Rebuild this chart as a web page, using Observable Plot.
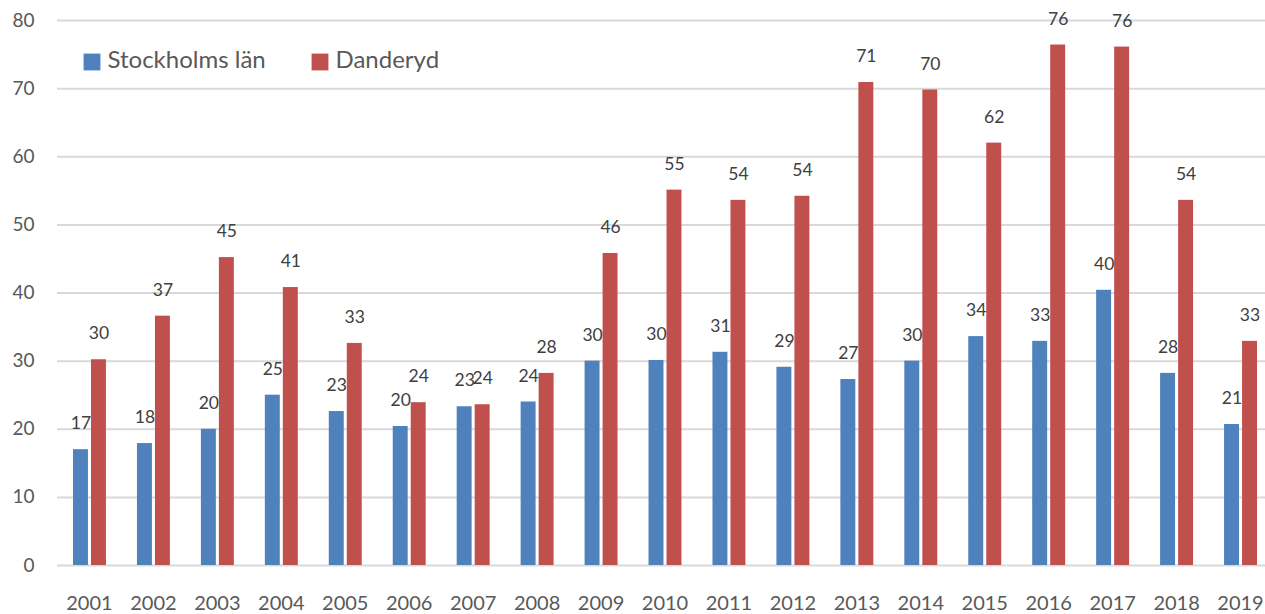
<!DOCTYPE html>
<html>
<head>
<meta charset="utf-8">
<script src="https://cdn.jsdelivr.net/npm/d3@7"></script>
<script src="https://cdn.jsdelivr.net/npm/@observablehq/plot@0.6"></script>
<style>
  html, body { margin: 0; padding: 0; background: #fff; }
  #chart svg { display: block; }
</style>
</head>
<body>
<div id="chart"></div>
<script>
const years = ["2001","2002","2003","2004","2005","2006","2007","2008","2009","2010","2011","2012","2013","2014","2015","2016","2017","2018","2019"];
const stockholm = [17.0, 17.9, 20.0, 25.0, 22.6, 20.4, 23.3, 24.0, 30.0, 30.1, 31.3, 29.1, 27.3, 30.0, 33.6, 32.9, 40.4, 28.2, 20.7];
const danderyd  = [30.2, 36.6, 45.2, 40.8, 32.6, 23.9, 23.6, 28.2, 45.8, 55.1, 53.6, 54.2, 70.9, 69.8, 62.0, 76.4, 76.1, 53.6, 32.9];
const seriesNames = ["Stockholms län", "Danderyd"];
const seriesColors = ["#4F81BD", "#C0504D"];
const yTicks = [0, 10, 20, 30, 40, 50, 60, 70, 80];

const rows = [];
years.forEach((y, i) => {
  rows.push({year: y, series: seriesNames[0], value: stockholm[i]});
  rows.push({year: y, series: seriesNames[1], value: danderyd[i]});
});
const sRows = rows.filter(d => d.series === seriesNames[0]);
const dRows = rows.filter(d => d.series === seriesNames[1]);
const legendS = [{series: seriesNames[0]}];
const legendD = [{series: seriesNames[1]}];

const chart = Plot.plot({
  width: 1265,
  height: 614,
  marginTop: 20,
  marginBottom: 49,
  marginLeft: 57,
  marginRight: 0,
  style: {fontFamily: "Lato, 'Open Sans', sans-serif", color: "#595959", background: "#fff"},
  x: {type: "band", domain: years, range: [57, 1272], paddingInner: 0, paddingOuter: 0, round: false, label: null},
  y: {domain: [0, 80], label: null},
  color: {domain: seriesNames, range: seriesColors},
  marks: [
    Plot.ruleY(yTicks, {stroke: "#D9D9D9", strokeWidth: 2}),
    Plot.barY(sRows, {x: "year", y: "value", fill: "series", insetLeft: 16, insetRight: 33}),
    Plot.barY(dRows, {x: "year", y: "value", fill: "series", insetLeft: 34, insetRight: 15}),
    Plot.text(sRows, {x: "year", y: "value", text: d => String(Math.round(d.value)), dx: -8.5, dy: -26, fontSize: 17.5, fill: "#404040"}),
    Plot.text(dRows, {x: "year", y: "value", text: d => String(Math.round(d.value)), dx: 9.5, dy: -26, fontSize: 17.5, fill: "#404040"}),
    Plot.axisY(yTicks, {tickSize: 0, tickPadding: 23, fontSize: 19, label: null}),
    Plot.axisX({tickSize: 0, tickPadding: 30, fontSize: 20, label: null}),
    Plot.dot(legendS, {frameAnchor: "top-left", dx: 34.5, dy: 41.5, symbol: "square", r: 9.5, fill: "series", stroke: null}),
    Plot.text(legendS, {frameAnchor: "top-left", lineAnchor: "middle", text: "series", dx: 50, dy: 40, fontSize: 24, textAnchor: "start", fill: "#595959"}),
    Plot.dot(legendD, {frameAnchor: "top-left", dx: 262.5, dy: 41.5, symbol: "square", r: 9.5, fill: "series", stroke: null}),
    Plot.text(legendD, {frameAnchor: "top-left", lineAnchor: "middle", text: "series", dx: 278, dy: 40, fontSize: 24, textAnchor: "start", fill: "#595959"})
  ]
});
document.getElementById("chart").append(chart);
</script>
</body>
</html>
